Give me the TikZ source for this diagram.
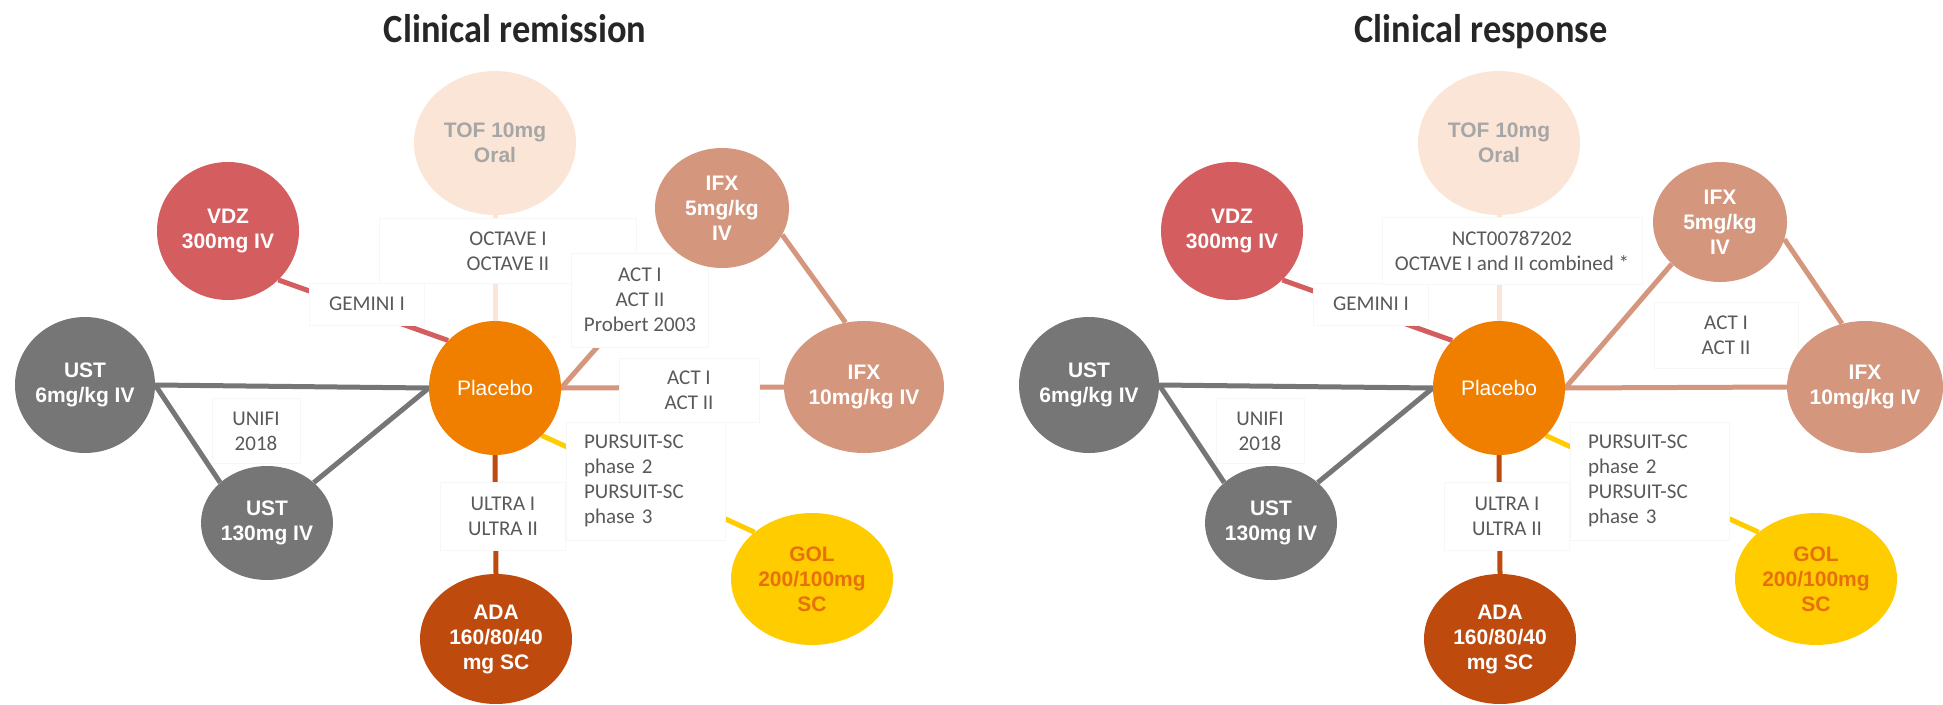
\documentclass[tikz,border=0pt]{standalone}
\usepackage{fontspec}
\setmainfont{Carlito}
\newfontfamily\nodefont{Liberation Sans}
\newfontfamily\headfont{Carlito}[FakeStretch=0.91]
\usetikzlibrary{shapes.geometric}
\pgfdeclarelayer{background}
\pgfdeclarelayer{labels}
\pgfsetlayers{background,labels,main}

\definecolor{tofc}{HTML}{FBE5D6}
\definecolor{toftext}{HTML}{A6A6A6}
\definecolor{vdzc}{HTML}{D45D5F}
\definecolor{ifxc}{HTML}{D4977D}
\definecolor{ustc}{HTML}{767676}
\definecolor{plac}{HTML}{F07F00}
\definecolor{adac}{HTML}{BF4A0E}
\definecolor{golc}{HTML}{FFCC00}
\definecolor{goltext}{HTML}{E8700C}
\definecolor{labc}{HTML}{595959}
\definecolor{titlec}{HTML}{262626}
\definecolor{boxline}{HTML}{F7F7F7}

\tikzset{
  drug/.style={ellipse, inner sep=-12pt, align=center, text=white,
    font=\nodefont\bfseries\fontsize{21}{25}\selectfont},
  study/.style={fill=white, draw=boxline, line width=0.5pt, align=center,
    text=labc, inner sep=0pt, font=\fontsize{21}{25}\selectfont},
  link/.style={line width=5pt},
  heading/.style={anchor=base, text=titlec,
    font=\headfont\bfseries\fontsize{40}{48}\selectfont}
}

% Treatments, links and trial labels shared by both networks
\newcommand\sharednet{%
  \node[drug, fill=tofc, text=toftext, minimum width=162pt, minimum height=144pt] (tof) at (495,143) {TOF 10mg\\Oral};
  \node[drug, fill=vdzc, minimum width=142pt, minimum height=138pt] (vdz) at (228,231) {VDZ\\300mg IV};
  \node[drug, fill=ustc, minimum width=140pt, minimum height=136pt] (ust6) at (85,385) {UST\\6mg/kg IV};
  \node[drug, fill=plac, minimum width=132pt, minimum height=134pt,
        font=\nodefont\fontsize{21}{25}\selectfont] (pl) at (495,388) {Placebo};
  \node[drug, fill=ustc, minimum width=132pt, minimum height=114pt] (ust130) at (267,523) {UST\\130mg IV};
  \node[drug, fill=adac, minimum width=152pt, minimum height=130pt] (ada) at (496,639) {ADA\\160/80/40\\mg SC};
  \node[drug, fill=golc, text=goltext, minimum width=162pt, minimum height=132pt] (gol) at (812,579) {GOL\\200/100mg\\SC};
  \begin{pgfonlayer}{background}
    \draw[link, ustc] (ust6.east) -- (pl.west);
    \draw[link, ustc] (ust6.east) -- (ust130.north west);
    \draw[link, ustc] (ust130.north east) -- (pl.west);
    \draw[link, vdzc] (vdz.south east) -- (pl.north west);
    \draw[link, tofc] (tof.south) -- (pl.north);
    \draw[link, adac] (pl.south) -- (ada.north);
    \draw[link, golc] (pl.south east) -- (gol.north west);
  \end{pgfonlayer}
  \begin{pgfonlayer}{labels}
    \node[study, minimum width=115pt, minimum height=42pt] (gem) at (367,304) {GEMINI I};
    \node[study, minimum width=88pt, minimum height=65pt] (unifi) at (256,431) {UNIFI\\2018};
    \node[study, minimum width=125pt, minimum height=68pt] (ultra) at (503,516) {ULTRA I\\ULTRA II};
    \node[study, align=left, text width=123pt, inner xsep=18pt, minimum height=118pt] (pursuit) at (645.5,481) {PURSUIT-SC\\phase 2\\PURSUIT-SC\\phase 3};
  \end{pgfonlayer}
}

\begin{document}
\begin{tikzpicture}[x=1pt, y=-1pt]
\useasboundingbox (0,0) rectangle (1943,704);

% ---------------- Clinical remission ----------------
\node[heading] (title1) at (515,42) {Clinical remission};
\sharednet
\node[drug, fill=ifxc, minimum width=134pt, minimum height=120pt] (ifx5) at (722,208) {IFX\\5mg/kg\\IV};
\node[drug, fill=ifxc, minimum width=160pt, minimum height=132pt] (ifx10) at (864,387) {IFX\\10mg/kg IV};
\begin{pgfonlayer}{background}
  \draw[link, ifxc] (pl.east) -- (ifx5.227);
  \draw[link, ifxc] (pl.east) -- (ifx10.west);
  \draw[link, ifxc] (ifx5.-24) -- (ifx10.106);
\end{pgfonlayer}
\begin{pgfonlayer}{labels}
  \node[study, minimum width=257pt, minimum height=65pt] (octave) at (508,251) {OCTAVE I\\OCTAVE II};
  \node[study, minimum width=137pt, minimum height=94pt] (actpro) at (640,300) {ACT I\\ACT II\\Probert 2003};
  \node[study, minimum width=140pt, minimum height=64pt] (act) at (689,390) {ACT I\\ACT II};
\end{pgfonlayer}

% ---------------- Clinical response ----------------
\node[heading] (title2) at (1481,42) {Clinical response};
\begin{scope}[xshift=1004pt, name prefix=R-]
  \sharednet
  \node[drug, fill=ifxc, minimum width=134pt, minimum height=120pt] (ifx5) at (716,222) {IFX\\5mg/kg\\IV};
  \node[drug, fill=ifxc, minimum width=156pt, minimum height=132pt] (ifx10) at (861,387) {IFX\\10mg/kg IV};
  \begin{pgfonlayer}{background}
    \draw[link, ifxc] (pl.east) -- (ifx5.221);
    \draw[link, ifxc] (pl.east) -- (ifx10.west);
    \draw[link, ifxc] (ifx5.-15) -- (ifx10.110);
  \end{pgfonlayer}
  \begin{pgfonlayer}{labels}
    \node[study, minimum width=260pt, minimum height=67pt] (nct) at (508,251) {NCT00787202\\OCTAVE I and II combined *};
    \node[study, minimum width=144pt, minimum height=66pt] (act) at (722,335) {ACT I\\ACT II};
  \end{pgfonlayer}
\end{scope}
\end{tikzpicture}
\end{document}
